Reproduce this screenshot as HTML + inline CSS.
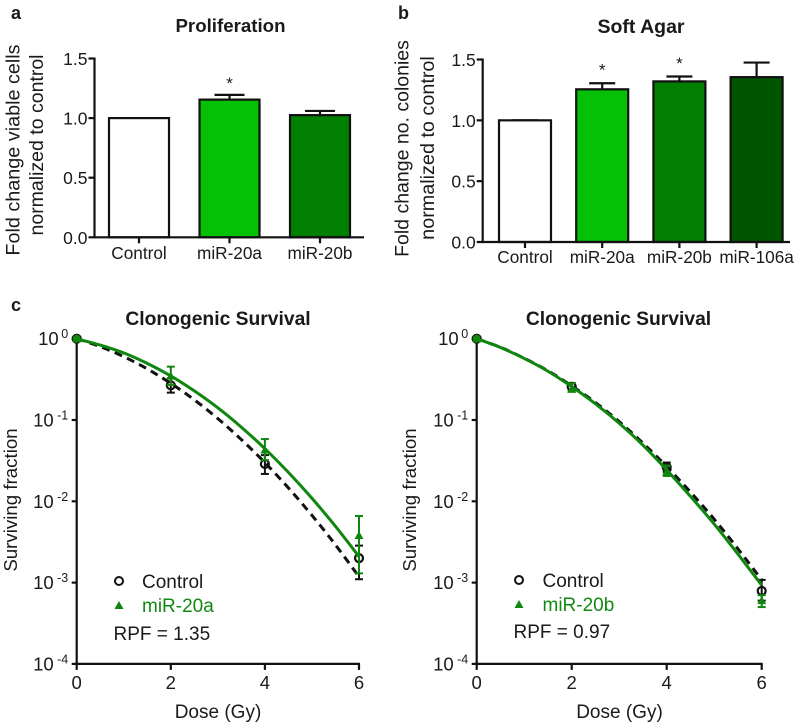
<!DOCTYPE html>
<html>
<head>
<meta charset="utf-8">
<style>
html,body{margin:0;padding:0;background:#fff;}
svg{display:block;}
text{font-family:"Liberation Sans",sans-serif;fill:#1a1a1a;}
</style>
</head>
<body>
<svg id="fig" width="797" height="725" viewBox="0 0 797 725" xmlns="http://www.w3.org/2000/svg">
  <rect width="797" height="725" fill="#fff"/>
  <text x="11" y="19" font-size="18" font-weight="bold">a</text>
  <text x="398" y="19" font-size="18" font-weight="bold">b</text>
  <text x="11" y="311" font-size="18" font-weight="bold">c</text>

  <text x="230.5" y="32" font-size="18.7" font-weight="bold" text-anchor="middle">Proliferation</text>
  <text x="641" y="33" font-size="19.5" font-weight="bold" text-anchor="middle">Soft Agar</text>
  <text x="218" y="325" font-size="19.3" font-weight="bold" text-anchor="middle">Clonogenic Survival</text>
  <text x="618.5" y="325" font-size="19.3" font-weight="bold" text-anchor="middle">Clonogenic Survival</text>

  <text transform="translate(19.5 150) rotate(-90)" font-size="19.8" text-anchor="middle">Fold change viable cells</text>
  <text transform="translate(43 145) rotate(-90)" font-size="19.5" text-anchor="middle">normalized to control</text>
  <text transform="translate(408.5 148.5) rotate(-90)" font-size="19.5" text-anchor="middle">Fold change no. colonies</text>
  <text transform="translate(434 148) rotate(-90)" font-size="19.8" text-anchor="middle">normalized to control</text>
  <text transform="translate(17 500) rotate(-90)" font-size="18.7" text-anchor="middle">Surviving fraction</text>
  <text transform="translate(416 500) rotate(-90)" font-size="18.7" text-anchor="middle">Surviving fraction</text>
  <text x="218" y="718" font-size="19" text-anchor="middle">Dose (Gy)</text>
  <text x="619.5" y="718" font-size="19" text-anchor="middle">Dose (Gy)</text>

  <circle cx="119" cy="581" r="4" fill="none" stroke="#111" stroke-width="2"/>
  <text x="142" y="588" font-size="19">Control</text>
  <polygon points="119,601 123.5,609 114.5,609" fill="#0f870f"/>
  <text x="142" y="612" font-size="19" style="fill:#118a11">miR-20a</text>
  <text x="113.5" y="640" font-size="19">RPF = 1.35</text>

  <circle cx="519" cy="580" r="4" fill="none" stroke="#111" stroke-width="2"/>
  <text x="542.5" y="587" font-size="19">Control</text>
  <polygon points="519,600 523.5,608 514.5,608" fill="#0f870f"/>
  <text x="542.5" y="611" font-size="19" style="fill:#118a11">miR-20b</text>
  <text x="513.5" y="638" font-size="19">RPF = 0.97</text>
</svg>
<script>
// Panel a
const proliferationCategories = ["Control", "miR-20a", "miR-20b"];
const proliferationValues = [1.0, 1.155, 1.025];
const proliferationErrorTops = [1.0, 1.195, 1.06];
const proliferationStars = ["", "*", ""];
// Panel b
const softAgarCategories = ["Control", "miR-20a", "miR-20b", "miR-106a"];
const softAgarValues = [1.0, 1.255, 1.32, 1.355];
const softAgarErrorTops = [1.0, 1.305, 1.36, 1.475];
const softAgarStars = ["", "*", "*", ""];
const barTickValues = [0, 0.5, 1, 1.5];
const barTickLabels = ["0.0", "0.5", "1.0", "1.5"];
// Panel c
const doseTicks = [0, 2, 4, 6];
const survivalExponents = [0, -1, -2, -3, -4];
const curveDoses = [0, 0.5, 1, 1.5, 2, 2.5, 3, 3.5, 4, 4.5, 5, 5.5, 6];
const pointDoses = [0, 2, 4, 6];
// Left plot
const leftControlCurve = [1, 0.799, 0.601, 0.425, 0.282, 0.177, 0.104, 0.0574, 0.0299, 0.0146, 0.00672, 0.00291, 0.00118];
const leftTreatedCurve = [1, 0.834, 0.668, 0.497, 0.348, 0.228, 0.141, 0.0815, 0.0444, 0.0227, 0.0109, 0.00492, 0.00209];
const leftControlPoints = [1, 0.267, 0.0288, 0.002];
const leftControlUpper = [1, 0.325, 0.037, 0.00285];
const leftControlLower = [1, 0.217, 0.0217, 0.0011];
const leftTreatedPoints = [1, 0.347, 0.0428, 0.0038];
const leftTreatedUpper = [1, 0.453, 0.0583, 0.0066];
const leftTreatedLower = [1, 0.27, 0.032, 0.0013];
// Right plot
const rightControlCurve = [1, 0.785, 0.575, 0.403, 0.263, 0.164, 0.0955, 0.0519, 0.0267, 0.013, 0.00603, 0.0026, 0.00108];
const rightTreatedCurve = [1, 0.78, 0.572, 0.398, 0.257, 0.158, 0.0912, 0.049, 0.0243, 0.0115, 0.00525, 0.00224, 0.00093];
const rightControlPoints = [1, 0.257, 0.0263, 0.00079];
const rightControlUpper = [1, 0.285, 0.03, 0.00108];
const rightControlLower = [1, 0.235, 0.023, 0.0006];
const rightTreatedPoints = [1, 0.238, 0.0232, 0.0006];
const rightTreatedUpper = [1, 0.283, 0.0275, 0.0007];
const rightTreatedLower = [1, 0.2275, 0.0205, 0.0005];

const SVG_NS = "http://www.w3.org/2000/svg";
const fig = document.getElementById("fig");
function make(tag, attrs, parent) {
  const el = document.createElementNS(SVG_NS, tag);
  for (const k in attrs) el.setAttribute(k, attrs[k]);
  (parent || fig).appendChild(el);
  return el;
}
function drawBarChart(cfg) {
  const y = v => cfg.y0 + (cfg.y1 - cfg.y0) * v / 1.5;
  const x = i => cfg.c0 + cfg.step * i;
  cfg.values.forEach((v, i) => {
    const cap = make("line", {x1: x(i) - cfg.cap, x2: x(i) + cfg.cap, y1: y(cfg.tops[i]), y2: y(cfg.tops[i]), stroke: "#111", "stroke-width": 2.2});
    
    
    const stem = make("line", {x1: x(i), x2: x(i), y1: y(cfg.tops[i]), y2: y(v), stroke: "#111", "stroke-width": 2.2});
    
    
    const bar = make("rect", {x: x(i) - cfg.bw / 2, y: y(v), width: cfg.bw, height: cfg.y0 - y(v), fill: cfg.colors[i], stroke: "#111", "stroke-width": 2.2});
    
    
    const tick = make("line", {x1: x(i), x2: x(i), y1: cfg.y0, y2: cfg.y0 + 6, stroke: "#111", "stroke-width": 2.2});
    
    
    const label = make("text", {x: x(i), y: cfg.labelY, "font-size": 17.2, "text-anchor": "middle"});
    label.textContent = cfg.categories[i];
    
    
    if (cfg.stars[i]) {
      const star = make("text", {x: x(i), y: y(cfg.tops[i]) - cfg.starGap, "font-size": 17, "text-anchor": "middle"});
      star.textContent = cfg.stars[i];
      
      
    }
  });
  const yAxis = make("line", {x1: cfg.ax, x2: cfg.ax, y1: cfg.y1 - 1, y2: cfg.y0 + 1, stroke: "#111", "stroke-width": 2.2});
  
  
  const xAxis = make("line", {x1: cfg.ax - 1, x2: cfg.xEnd, y1: cfg.y0, y2: cfg.y0, stroke: "#111", "stroke-width": 2.2});
  
  
  barTickValues.forEach((t, i) => {
    const tick = make("line", {x1: cfg.ax - 6, x2: cfg.ax, y1: y(t), y2: y(t), stroke: "#111", "stroke-width": 2.2});
    
    
    const label = make("text", {x: cfg.ax - 7, y: y(t) + 6.5, "font-size": 17.5, "text-anchor": "end"});
    label.textContent = barTickLabels[i];
    
    
  });
}
function smoothPath(pts) {
  let d = "M" + pts[0][0] + " " + pts[0][1];
  for (let i = 0; i < pts.length - 1; i++) {
    const p0 = pts[Math.max(i - 1, 0)], p1 = pts[i], p2 = pts[i + 1], p3 = pts[Math.min(i + 2, pts.length - 1)];
    d += " C" + (p1[0] + (p2[0] - p0[0]) / 6) + " " + (p1[1] + (p2[1] - p0[1]) / 6) + " " +
      (p2[0] - (p3[0] - p1[0]) / 6) + " " + (p2[1] - (p3[1] - p1[1]) / 6) + " " + p2[0] + " " + p2[1];
  }
  return d;
}
function drawSurvival(cfg) {
  const x = d => cfg.x0 + (cfg.x6 - cfg.x0) * d / 6;
  const y = v => 338.7 - 81.3 * Math.log10(v);
  const BLACK = "#111", GREEN = "#0f870f";
  const yAxis = make("line", {x1: cfg.x0, x2: cfg.x0, y1: y(1) - 1, y2: y(1e-4) + 1, stroke: BLACK, "stroke-width": 2.2});
  
  
  const xAxis = make("line", {x1: cfg.x0 - 1, x2: cfg.x6 + 1, y1: y(1e-4), y2: y(1e-4), stroke: BLACK, "stroke-width": 2.2});
  
  
  doseTicks.forEach(t => {
    const tick = make("line", {x1: x(t), x2: x(t), y1: y(1e-4), y2: y(1e-4) + 6, stroke: BLACK, "stroke-width": 2.2});
    
    
    const label = make("text", {x: x(t), y: 689, "font-size": 18.5, "text-anchor": "middle"});
    label.textContent = String(t);
    
    
  });
  survivalExponents.forEach(e => {
    const py = y(Math.pow(10, e));
    const tick = make("line", {x1: cfg.x0 - 5, x2: cfg.x0, y1: py, y2: py, stroke: BLACK, "stroke-width": 2.2});
    
    
    const base = make("text", {x: cfg.x0 - (e === 0 ? 18 : 23), y: py + 6.5, "font-size": 18.5, "text-anchor": "end"});
    base.textContent = "10";
    
    
    const sup = make("text", {x: cfg.x0 - 8.5, y: py - 0.5, "font-size": 12.5, "text-anchor": "end"});
    sup.textContent = String(e);
    
    
  });
  function series(points, upper, lower, color, kind) {
    pointDoses.forEach((d, i) => {
      if (i === 0) return;
      const stem = make("line", {x1: x(d), x2: x(d), y1: y(upper[i]), y2: y(lower[i]), stroke: color, "stroke-width": 2});
      
      
      [upper[i], lower[i]].forEach(v => {
        const cap = make("line", {x1: x(d) - 4, x2: x(d) + 4, y1: y(v), y2: y(v), stroke: color, "stroke-width": 2});
        
        
      });
    });
    pointDoses.forEach((d, i) => {
      const px = x(d), py = y(points[i]);
      if (kind === "control") {
        const c = make("circle", {cx: px, cy: py, r: 4, fill: "none", stroke: color, "stroke-width": 2.2});
        
        
      } else {
        const t = make("polygon", {points: px + "," + (py - 4.5) + " " + (px + 4.5) + "," + (py + 3.5) + " " + (px - 4.5) + "," + (py + 3.5), fill: color});
        
        
      }
    });
  }
  series(cfg.cPts, cfg.cUp, cfg.cLo, BLACK, "control");
  const dashed = make("path", {d: smoothPath(curveDoses.map((d, i) => [x(d), y(cfg.cCurve[i])])), fill: "none", stroke: BLACK, "stroke-width": 3, "stroke-dasharray": "8 5.5"});
  
  
  series(cfg.tPts, cfg.tUp, cfg.tLo, GREEN, "treated");
  const solid = make("path", {d: smoothPath(curveDoses.map((d, i) => [x(d), y(cfg.tCurve[i])])), fill: "none", stroke: GREEN, "stroke-width": 3});
  
  
  const origin = make("circle", {cx: x(0), cy: y(cfg.tPts[0]), r: 4, fill: GREEN});
  
  
}
drawBarChart({categories: proliferationCategories, values: proliferationValues, tops: proliferationErrorTops, stars: proliferationStars,
  colors: ["#fff", "#05c105", "#007f00"], c0: 139, step: 90.5, bw: 60, cap: 15, y0: 237.3, y1: 58.5, ax: 94.5, xEnd: 364, labelY: 259, starGap: 6});
drawBarChart({categories: softAgarCategories, values: softAgarValues, tops: softAgarErrorTops, stars: softAgarStars,
  colors: ["#fff", "#05c105", "#007f00", "#005500"], c0: 525, step: 77.2, bw: 52, cap: 13, y0: 242, y1: 59.5, ax: 482.7, xEnd: 790, labelY: 263, starGap: 7.5});
drawSurvival({x0: 76.7, x6: 359, cCurve: leftControlCurve, tCurve: leftTreatedCurve, cPts: leftControlPoints, cUp: leftControlUpper, cLo: leftControlLower, tPts: leftTreatedPoints, tUp: leftTreatedUpper, tLo: leftTreatedLower});
drawSurvival({x0: 476.7, x6: 761.7, cCurve: rightControlCurve, tCurve: rightTreatedCurve, cPts: rightControlPoints, cUp: rightControlUpper, cLo: rightControlLower, tPts: rightTreatedPoints, tUp: rightTreatedUpper, tLo: rightTreatedLower});
</script>
</body>
</html>
